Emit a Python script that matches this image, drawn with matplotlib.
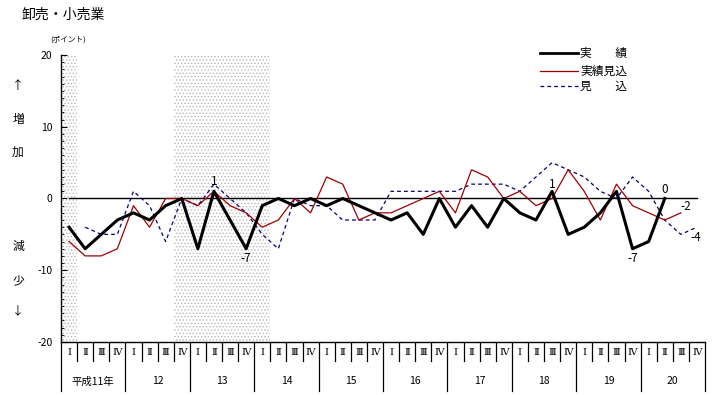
import numpy as np
import matplotlib
matplotlib.use("Agg")
import matplotlib.pyplot as plt
import matplotlib.transforms as mtransforms

plt.rcParams['font.family'] = ['Noto Sans CJK JP', 'DejaVu Sans']
plt.rcParams['hatch.linewidth'] = 0.6

nan = np.nan
quarters = ["Ⅰ", "Ⅱ", "Ⅲ", "Ⅳ"]
years = ["平成11年", "12", "13", "14", "15", "16", "17", "18", "19", "20"]

jisseki = [-4, -7, -5, -3, -2, -3, -1, 0, -7, 1, -3, -7, -1, 0, -1, 0, -1, 0, -1, -2,
           -3, -2, -5, 0, -4, -1, -4, 0, -2, -3, 1, -5, -4, -2, 1, -7, -6, 0, nan, nan]
jisseki_mikomi = [-6, -8, -8, -7, -1, -4, 0, 0, -1, 1, -1, -2, -4, -3, 0, -2, 3, 2, -3, -2,
                  -2, -1, 0, 1, -2, 4, 3, 0, 1, -1, 0, 4, 1, -3, 2, -1, -2, -3, -2, nan]
mikomi = [nan, -4, -5, -5, 1, -1, -6, 0, -1, 2, 0, -2, -5, -7, 0, -1, -1, -3, -3, -3,
          1, 1, 1, 1, 1, 2, 2, 2, 1, 3, 5, 4, 3, 1, 0, 3, 1, -3, -5, -4]

# shaded periods (quarter index ranges)
shade_periods = [(0, 0), (7, 12)]

n = len(jisseki)
x = np.arange(n)

fig = plt.figure(figsize=(7.14, 3.95), dpi=100)
ax = fig.add_axes([61 / 714, 1 - 342 / 395, 644 / 714, 287 / 395])

for a, b in shade_periods:
    ax.axvspan(a - 0.5, b + 0.5, facecolor='white', hatch='.....',
               edgecolor='#b8b8b8', linewidth=0, zorder=0)

ax.plot([0, n - 1], [0, 0], color='black', lw=1.0, zorder=1)

ax.plot(x, mikomi, color='#000080', lw=0.9, ls=(0, (3, 2.5)), zorder=2)
ax.plot(x, jisseki_mikomi, color='#a00000', lw=0.9, zorder=3)
ax.plot(x, jisseki, color='black', lw=2.2, zorder=4)

ax.set_xlim(-0.5, n - 0.5)
ax.set_ylim(-20, 20)
ax.set_yticks([-20, -10, 0, 10, 20])
ax.set_yticklabels(["-20", "-10", "0", "10", "20"], fontsize=7.5)
ax.set_yticks(np.arange(-20, 21, 1), minor=True)
ax.tick_params(axis='y', which='major', direction='in', length=4, width=0.8, pad=6)
ax.tick_params(axis='y', which='minor', direction='in', length=2, width=0.6)
ax.set_xticks([])
for s in ['top', 'right']:
    ax.spines[s].set_visible(False)
ax.spines['left'].set_linewidth(1.0)
ax.spines['bottom'].set_linewidth(1.0)

# point labels
lab_kw = dict(fontsize=8.5, ha='center', va='center', zorder=6)
ax.text(9, 2.4, "1", **lab_kw)
ax.text(11, -8.3, "-7", **lab_kw)
ax.text(30, 2.0, "1", **lab_kw)
ax.text(35, -8.3, "-7", **lab_kw)
ax.text(37, 1.25, "0", **lab_kw)
ax.text(38.3, -1.1, "-2", **lab_kw)
ax.text(38.9, -5.5, "-4", **lab_kw)

# category table below axis
trans = mtransforms.blended_transform_factory(ax.transData, ax.transAxes)
for k in range(n + 1):
    xx = k - 0.5
    if k % 4 == 0:
        ax.plot([xx, xx], [0, -0.17], color='black', lw=0.9, transform=trans, clip_on=False)
    else:
        ax.plot([xx, xx], [0, -0.065], color='black', lw=0.9, transform=trans, clip_on=False)
for i in range(n):
    ax.text(i, -0.038, quarters[i % 4], transform=trans, ha='center', va='center',
            fontsize=7, family=['DejaVu Serif', 'Noto Sans CJK JP'])
for j, yl in enumerate(years):
    ax.text(4 * j + 1.5, -0.137, yl, transform=trans, ha='center', va='center', fontsize=7.5)

# legend
leg_y = [53, 71, 86]
leg_lbl = ["実　　績", "実績見込", "見　　込"]
leg_sty = [dict(color='black', lw=2.0), dict(color='#a00000', lw=0.9),
           dict(color='#000080', lw=0.9, ls=(0, (3, 2.5)))]
for py, lbl, sty in zip(leg_y, leg_lbl, leg_sty):
    fy = 1 - py / 395
    fig.add_artist(plt.Line2D([540 / 714, 578 / 714], [fy, fy], transform=fig.transFigure, **sty))
    fig.text(580 / 714, fy, lbl, ha='left', va='center', fontsize=8.5)

# titles and side labels
fig.text(22 / 714, 1 - 15 / 395, "卸売・小売業", ha='left', va='center', fontsize=10)
fig.text(50 / 714, 1 - 40 / 395, "(ポイント)", ha='left', va='center', fontsize=5.5)
for ch, py in [("↑", 85), ("増", 120), ("加", 152), ("減", 246), ("少", 281), ("↓", 311)]:
    fig.text(18 / 714, 1 - py / 395, ch, ha='center', va='center', fontsize=8.5)

fig.savefig("out.png", dpi=100)
